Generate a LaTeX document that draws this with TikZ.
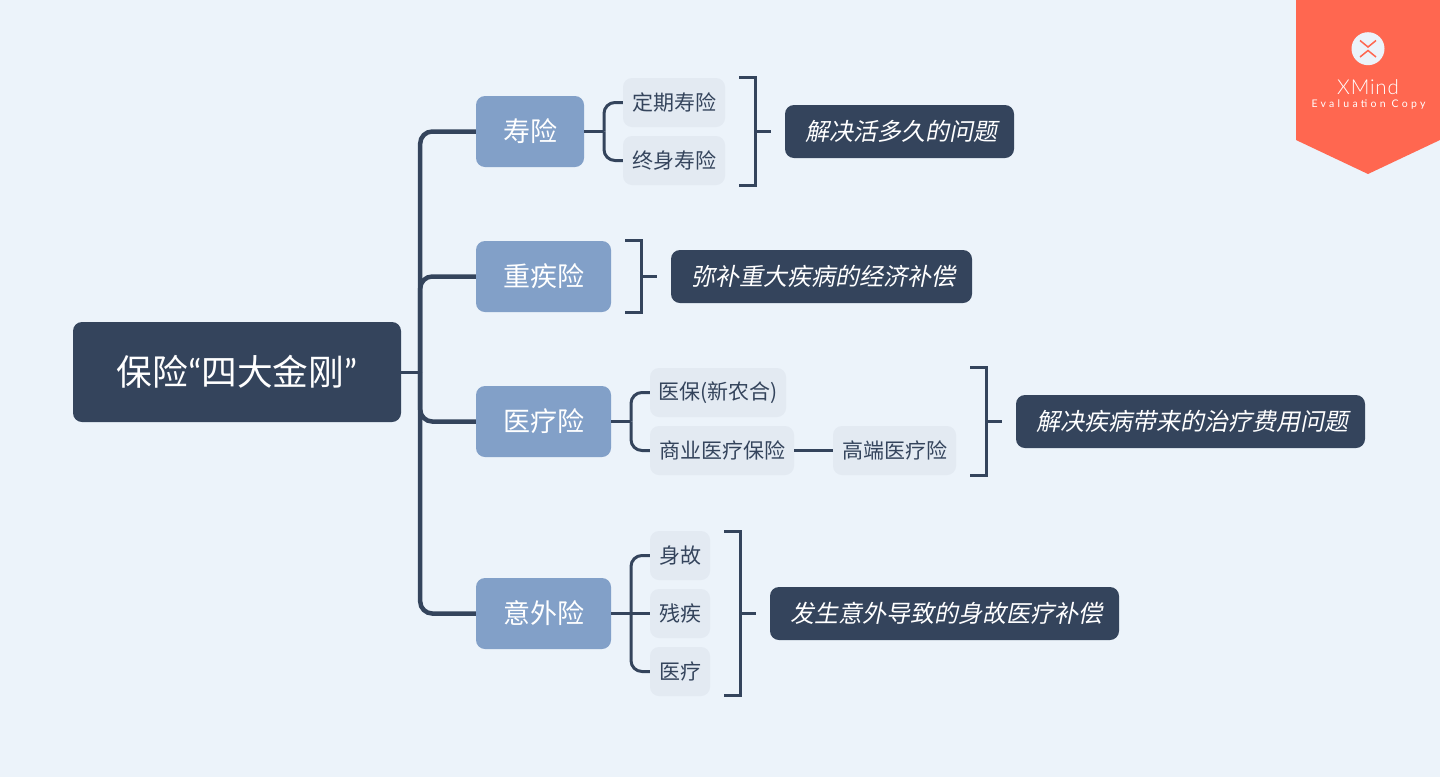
\documentclass[tikz,border=0pt]{standalone}
\usepackage{fontspec}
\usetikzlibrary{calc}
\setmainfont{Noto Sans CJK SC}
\newfontfamily\slantcjk[FakeSlant=0.2]{Noto Sans CJK SC}
\newfontfamily\latfont{Lato}
\newfontfamily\latlight[LetterSpace=4]{Lato Light}
\newfontfamily\latspaced[LetterSpace=31]{Lato}
\definecolor{bgblue}{HTML}{ECF3FA}
\definecolor{inkdark}{HTML}{34445C}
\definecolor{midblue}{HTML}{82A0C8}
\definecolor{paleblue}{HTML}{E3EAF2}
\definecolor{flag}{HTML}{FF6750}
\tikzset{
 rootbox/.style={fill=inkdark, text=white, rounded corners=9, inner sep=0, minimum width=328, minimum height=100, font=\fontsize{35.7}{35.7}\selectfont},
 mainbox/.style={fill=midblue, text=white, rounded corners=9, inner sep=0, minimum height=71, font=\fontsize{27}{27}\selectfont},
 subbox/.style={fill=paleblue, text=inkdark, rounded corners=9, inner sep=0, minimum height=49, font=\fontsize{21}{21}\selectfont},
 notebox/.style={fill=inkdark, text=white, rounded corners=9, inner sep=0, minimum height=53, font=\slantcjk\fontsize{24}{24}\selectfont, execute at begin node=\kern3pt},
 spine/.style={draw=inkdark, line width=4.5},
 twig/.style={draw=inkdark, line width=3},
}
\begin{document}
\begin{tikzpicture}[x=1pt,y=-1pt]
\fill[bgblue] (0,0) rectangle (1440,777);
\useasboundingbox (0,0) rectangle (1440,777);
% main topics
\node[rootbox] (root) at (237,372) {保险{\latfont “}四大金刚{\latfont ”}};
\node[mainbox, minimum width=108] (shou) at (530,131.5) {寿险};
\node[mainbox, minimum width=135] (zhong) at (543.5,276.5) {重疾险};
\node[mainbox, minimum width=135] (yi) at (543.5,421.5) {医疗险};
\node[mainbox, minimum width=135] (wai) at (543.5,613.5) {意外险};
% subtopics
\node[subbox, minimum width=102] (dingqi) at (674,102.5) {定期寿险};
\node[subbox, minimum width=102] (zhongshen) at (674,160.5) {终身寿险};
\node[subbox, minimum width=136] (yibao) at (718,392.5) {医保(新农合)};
\node[subbox, minimum width=144] (shangye) at (722,450.5) {商业医疗保险};
\node[subbox, minimum width=123] (gaoduan) at (894.5,450.5) {高端医疗险};
\node[subbox, minimum width=60] (shengu) at (680,555.5) {身故};
\node[subbox, minimum width=60] (canji) at (680,613.5) {残疾};
\node[subbox, minimum width=60] (yiliao) at (680,671.5) {医疗};
% notes
\node[notebox, minimum width=229] (notea) at (899.5,131.5) {解决活多久的问题};
\node[notebox, minimum width=301] (noteb) at (821.5,276.5) {弥补重大疾病的经济补偿};
\node[notebox, minimum width=349] (notec) at (1190.5,421.5) {解决疾病带来的治疗费用问题};
\node[notebox, minimum width=349] (noted) at (944.5,613.5) {发生意外导致的身故医疗补偿};
% connectors
\draw[twig] (root.east) -- ++(19,0) coordinate (rootjoint);
\foreach \n in {shou,zhong,yi,wai} {
 \draw[spine, rounded corners=12] (rootjoint) |- (\n.west);
}
\foreach \a/\b/\jx in {shou/dingqi/604, shou/zhongshen/604, yi/yibao/631, yi/shangye/631, wai/shengu/631, wai/yiliao/631} {
 \draw[twig] (\a.east) -- (\jx,0 |- \a.east) coordinate (joint);
 \draw[twig, rounded corners=11] (joint) |- (\b.west);
}
\draw[twig] (wai.east) -- (canji.west);
\draw[twig] (shangye.east) -- (gaoduan.west);
% brackets
\foreach \xa/\ya/\yb/\n in {739/77.5/185/notea, 625/240.5/312/noteb, 970/367.5/475/notec, 724/531.5/695/noted} {
 \coordinate (top) at (\xa,\ya);
 \coordinate (bot) at (\xa,\yb);
 \coordinate (mid) at (\xa+16,{(\ya+\yb)/2});
 \draw[twig] (top) -- ++(16,0) -- ($(bot)+(16,0)$) -- (bot);
 \draw[twig] (mid) -- ++(16,0);
}
% evaluation flag
\fill[flag] (1296,0) -- (1440,0) -- (1440,140) -- (1368,174) -- (1296,140) -- cycle;
\fill[bgblue] (1368,48.7) circle (16.5);
\draw[flag, line width=1.5] (1360,40.5) -- (1368,47) -- (1376,40.5) (1360,57) -- (1368,50.5) -- (1376,57);
\node[text=white, inner sep=0, font=\latlight\fontsize{20.5}{20.5}\selectfont] (brand) at (1368,87) {XMind};
\node[text=white, inner sep=0, font=\latspaced\fontsize{10.5}{10.5}\selectfont] (evalcopy) at (1368.5,105) {Evaluation Copy};
\end{tikzpicture}
\end{document}
